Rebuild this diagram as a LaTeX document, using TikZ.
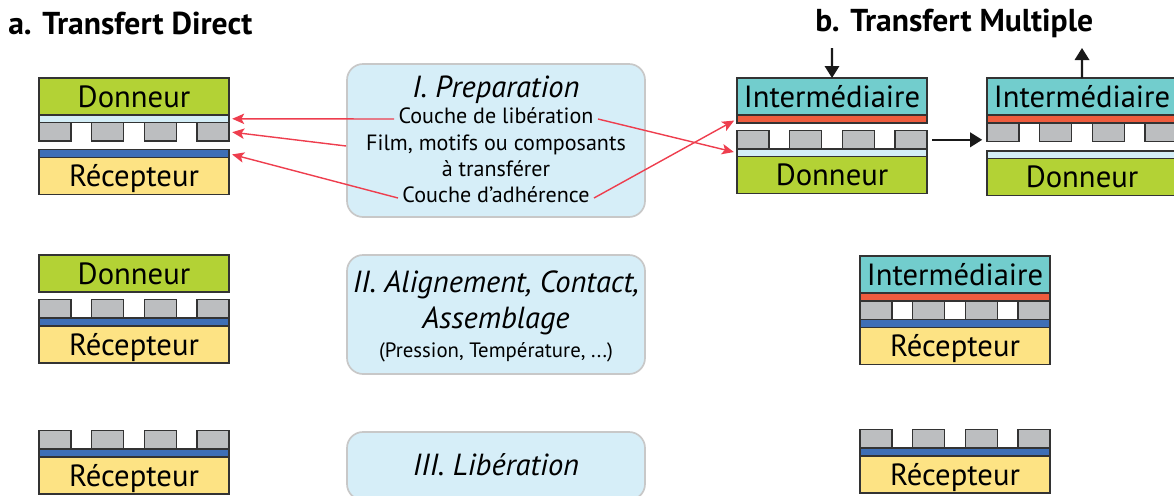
\documentclass[tikz,border=0pt]{standalone}
\usepackage{fontspec}
\setmainfont{PT Sans}
\usetikzlibrary{arrows.meta, positioning}
\definecolor{donorgreen}{HTML}{B3D235}
\definecolor{recvyellow}{HTML}{FDE384}
\definecolor{interteal}{HTML}{72CDCD}
\definecolor{adhred}{HTML}{EE5C3E}
\definecolor{adhblue}{HTML}{3E6FB6}
\definecolor{relblue}{HTML}{D4EEF7}
\definecolor{padgray}{HTML}{BCBEC0}
\definecolor{boxfill}{HTML}{D6EEF8}
\definecolor{boxline}{HTML}{C8C8C8}
\definecolor{arrred}{HTML}{EE3E4E}
\begin{document}
\begin{tikzpicture}[x=0.25mm, y=-0.25mm,
  layer/.style={draw=black!80, line width=1pt, inner sep=0pt, outer sep=0pt,
                minimum width=47.5mm},
  slab/.style={layer, minimum height=9.25mm,
               font=\fontsize{21.8}{24}\selectfont, text height=15pt, text depth=0pt},
  donor/.style={slab, fill=donorgreen},
  recv/.style={slab, fill=recvyellow},
  inter/.style={slab, fill=interteal},
  rel/.style={layer, fill=relblue, minimum height=1.9mm},
  adh/.style={layer, fill=adhblue, minimum height=2mm},
  adhr/.style={layer, fill=adhred, minimum height=2mm},
  padrow/.style={layer, fill=white, minimum height=4.6mm},
  pad/.style={layer, fill=padgray, minimum width=8mm, minimum height=4.6mm,
              anchor=north west},
  stepbox/.style={draw=boxline, fill=boxfill, line width=1.2pt,
                  rounded corners=4mm, minimum width=74.5mm},
  headtxt/.style={font=\fontsize{21.7}{24}\selectfont\itshape, inner sep=1pt},
  bodytxt/.style={font=\fontsize{15.7}{18}\selectfont, inner sep=3pt,
                  text height=1.5ex, text depth=0.3ex},
  titletxt/.style={font=\fontsize{22.5}{25}\selectfont\bfseries, anchor=west, inner sep=0pt},
  redarr/.style={-{Stealth[length=3mm, width=2.6mm, inset=0.7mm]}, line width=1pt,
                 color=arrred, shorten >=0.8mm},
  blk/.style={-{Triangle[length=3mm, width=3.6mm]}, line width=1.5pt, color=black!90}
]
\useasboundingbox (0,0) rectangle (1174,495);

% Titles
\node[titletxt] (titleA) at (8,23) {a. Transfert Direct};
\node[titletxt] (titleB) at (815,23) {b. Transfert Multiple};

% Direct transfer, step I
\node[donor, anchor=north west] (dnL1) at (39,78) {Donneur};
\node[rel, below=0pt of dnL1] (relL1) {};
\foreach \i in {0,...,3}
  \node[pad, xshift=\i*13.17mm] (pL1\i) at (relL1.south west) {};
\node[adh, below=6.75mm of relL1] (adhL1) {};
\node[recv, below=0pt of adhL1] (recL1) {Récepteur};

% Direct transfer, step II
\node[donor, anchor=north west] (dnL2) at (39,255) {Donneur};
\node[adh, below=6.5mm of dnL2] (adhL2) {};
\foreach \i in {0,...,3}
  \node[pad, anchor=south west, xshift=\i*13.17mm] (pL2\i) at (adhL2.north west) {};
\node[recv, below=0pt of adhL2] (recL2) {Récepteur};

% Direct transfer, step III
\node[adh, anchor=north west] (adhL3) at (39,449) {};
\foreach \i in {0,...,3}
  \node[pad, anchor=south west, xshift=\i*13.17mm] (pL3\i) at (adhL3.north west) {};
\node[recv, below=0pt of adhL3] (recL3) {Récepteur};

% Multiple transfer, step I (contact)
\node[inter, anchor=north west] (intR1) at (737,78) {Intermédiaire};
\node[adhr, below=0pt of intR1] (redR1) {};
\node[rel, below=6.5mm of redR1] (relR1) {};
\foreach \i in {0,...,3}
  \node[pad, anchor=south west, xshift=\i*13.17mm] (pR1\i) at (relR1.north west) {};
\node[donor, below=0pt of relR1] (dnR1) {Donneur};

% Multiple transfer, step I (pick-up)
\node[inter, anchor=north west] (intR2) at (987,78) {Intermédiaire};
\node[adhr, below=0pt of intR2] (redR2) {};
\foreach \i in {0,...,3}
  \node[pad, xshift=\i*13.17mm] (pR2\i) at (redR2.south west) {};
\node[rel, below=7mm of redR2] (relR2) {};
\node[donor, below=0pt of relR2] (dnR2) {Donneur};

% Multiple transfer, step II
\node[inter, anchor=north west] (intR3) at (860,256) {Intermédiaire};
\node[adhr, below=0pt of intR3] (redR3) {};
\node[padrow, below=0pt of redR3] (rowR3) {};
\foreach \i in {0,...,3}
  \node[pad, xshift=\i*13.17mm] (pR3\i) at (rowR3.north west) {};
\node[adh, below=0pt of rowR3] (adhR3) {};
\node[recv, below=0pt of adhR3] (recR3) {Récepteur};

% Multiple transfer, step III
\node[adh, anchor=north west] (adhR4) at (860,448) {};
\foreach \i in {0,...,3}
  \node[pad, anchor=south west, xshift=\i*13.17mm] (pR4\i) at (adhR4.north west) {};
\node[recv, below=0pt of adhR4] (recR4) {Récepteur};

% Steps
\node[stepbox, minimum height=38.25mm] (prep) at (496,140.5) {};
\node[headtxt] (prepT) at (496,90) {I. Preparation};
\node[bodytxt] (libT) at (496,119) {Couche de libération};
\node[bodytxt] (filmT) at (496,146) {Film, motifs ou composants};
\node[bodytxt] (transT) at (496,172) {à transférer};
\node[bodytxt] (adhT) at (496,198) {Couche d’adhérence};

\node[stepbox, minimum height=29.75mm] (align) at (496,314.5) {};
\node[headtxt] (alignT) at (496,285) {II. Alignement, Contact,};
\node[headtxt] (asmT) at (496,321) {Assemblage};
\node[bodytxt, font=\fontsize{14.8}{17}\selectfont] (condT) at (496,353) {(Pression, Température, ...)};

\node[stepbox, minimum height=17mm] (lib) at (496,466) {};
\node[headtxt] (libH) at (496,465) {III. Libération};

% Arrows
\draw[redarr] (libT.west) -- (relL1.east);
\draw[redarr] (prep.west |- filmT) -- (pL13.east);
\draw[redarr] (adhT.west) -- (adhL1.east);
\draw[redarr] (libT.east) -- (relR1.west);
\draw[redarr] (adhT.east) -- (redR1.west);

\coordinate (pushR1) at (832,48);
\coordinate (pullR2) at (1082,48);
\draw[blk] (pushR1) -- (intR1.north);
\draw[blk] (intR2.north) -- (pullR2);
\draw[blk, shorten <=1.3mm, shorten >=1.2mm] (pR13.east) -- (pR13.east -| intR2.west);
\end{tikzpicture}
\end{document}
